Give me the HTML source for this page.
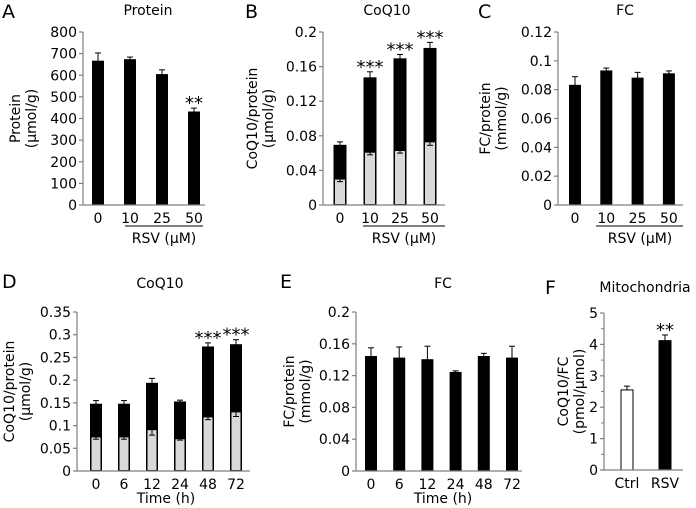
<!DOCTYPE html>
<html><head><meta charset="utf-8"><style>
html,body{margin:0;padding:0;background:#fff;}
svg{display:block;font-family:"DejaVu Sans","Liberation Sans",sans-serif;}
</style></head><body>
<svg id="fig" width="696" height="508" viewBox="0 0 696 508" xmlns="http://www.w3.org/2000/svg"></svg>
<script>
// Panel A
const catsA = ["0","10","25","50"];
const valsA = [665,672,603,430];
const errA = [38,12,22,18];
const starsA = ["","","","**"];
const ticksA = [0,100,200,300,400,500,600,700,800];
// Panel B
const catsB = ["0","10","25","50"];
const totB = [0.069,0.147,0.169,0.181];
const totErrB = [0.004,0.007,0.005,0.007];
const grayB = [0.030,0.061,0.063,0.073];
const grayErrB = [0.003,0.003,0.003,0.004];
const starsB = ["","***","***","***"];
const ticksB = [0,0.04,0.08,0.12,0.16,0.2];
// Panel C
const catsC = ["0","10","25","50"];
const valsC = [0.083,0.093,0.088,0.091];
const errC = [0.006,0.002,0.004,0.002];
const ticksC = [0,0.02,0.04,0.06,0.08,0.1,0.12];
// Panel D
const catsD = ["0","6","12","24","48","72"];
const totD = [0.147,0.147,0.193,0.152,0.273,0.278];
const totErrD = [0.008,0.008,0.011,0.004,0.009,0.011];
const grayD = [0.075,0.075,0.091,0.071,0.119,0.130];
const grayErrD = [0.005,0.005,0.012,0.003,0.006,0.010];
const starsD = ["","","","","***","***"];
const ticksD = [0,0.05,0.1,0.15,0.2,0.25,0.3,0.35];
// Panel E
const catsE = ["0","6","12","24","48","72"];
const valsE = [0.144,0.142,0.140,0.124,0.144,0.142];
const errE = [0.011,0.014,0.017,0.002,0.004,0.015];
const ticksE = [0,0.04,0.08,0.12,0.16,0.2];
// Panel F
const catsF = ["Ctrl","RSV"];
const valsF = [2.55,4.12];
const errF = [0.12,0.18];
const starsF = ["","**"];
const ticksF = [0,1,2,3,4,5];

const NS="http://www.w3.org/2000/svg";
const svg=document.getElementById('fig');
function mk(tag,attrs,parent,text){const e=document.createElementNS(NS,tag);for(const k in attrs)e.setAttribute(k,attrs[k]);if(text!==undefined)e.textContent=text;(parent||svg).appendChild(e);return e;}

function panel(o){
  const g=mk('g',{});
  
  
  const y=v=>o.y0-(v/o.max)*(o.y0-o.y1);
  const x=i=>o.xs0+i*o.step;
  const L=mk('text',{x:o.lx,y:o.ly,'font-size':19,fill:'#000'},g,o.letter);
  
  
  const T=mk('text',{x:o.tx,y:o.ty,'font-size':14,'text-anchor':'middle',fill:'#000'},g,o.title);
  
  
  const yt=mk('text',{transform:`translate(${o.ytx},${(o.y0+o.y1)/2}) rotate(-90)`,'font-size':14,'text-anchor':'middle',fill:'#000'},g);
  
  
  mk('tspan',{x:0,dy:0},yt,o.yl1);
  mk('tspan',{x:0,dy:16},yt,o.yl2);
  o.cats.forEach((c,i)=>{
    const cx=x(i), w=o.bw;
    const tv=o.tot[i];
    const b=mk('rect',{x:cx-w/2,y:y(tv),width:w,height:o.y0-y(tv),fill:o.fills?o.fills[i]:'#000',stroke:'#000','stroke-width':1},g);
    
    
    const ey=y(tv+o.err[i]);
    mk('line',{x1:cx,x2:cx,y1:y(tv),y2:ey,stroke:'#000','stroke-width':1},g);
    mk('line',{x1:cx-3,x2:cx+3,y1:ey,y2:ey,stroke:'#000','stroke-width':1},g);
    if(o.gray){
      const gv=o.gray[i];
      const gb=mk('rect',{x:cx-w/2+0.5,y:y(gv),width:w-1,height:o.y0-y(gv)-0.5,fill:'#d9d9d9',stroke:'#000','stroke-width':1},g);
      
      
      const gy=y(gv-o.gerr[i]);
      mk('line',{x1:cx,x2:cx,y1:y(gv),y2:gy,stroke:'#000','stroke-width':1},g);
      mk('line',{x1:cx-3,x2:cx+3,y1:gy,y2:gy,stroke:'#000','stroke-width':1},g);
    }
    if(o.stars&&o.stars[i]){
      const s=mk('text',{x:cx,y:ey+1,'font-size':18,'text-anchor':'middle',fill:'#000'},g,o.stars[i]);
      
      
    }
    const xl=mk('text',{x:cx,y:o.y0+18,'font-size':14,'text-anchor':'middle',fill:'#000'},g,c);
    
    
  });
  const ax=mk('line',{x1:o.ax,x2:o.ax,y1:o.y1,y2:o.y0,stroke:'#7f7f7f','stroke-width':1.2},g);
  
  
  const bx=mk('line',{x1:o.ax,x2:o.axEnd,y1:o.y0,y2:o.y0,stroke:'#7f7f7f','stroke-width':1.2},g);
  
  
  o.ticks.forEach(t=>{
    mk('line',{x1:o.ax-4,x2:o.ax,y1:y(t),y2:y(t),stroke:'#7f7f7f','stroke-width':1.2},g);
    const tl=mk('text',{x:o.ax-6,y:y(t)+5,'font-size':14,'text-anchor':'end',fill:'#000'},g,String(t));
    
    
  });
  if(o.minor){o.ticks.slice(0,-1).forEach(t=>{mk('line',{x1:o.ax-3,x2:o.ax,y1:y(t+o.minor),y2:y(t+o.minor),stroke:'#7f7f7f','stroke-width':1},g);});}
  if(o.under){
    const u=mk('line',{x1:o.under[0],x2:o.under[1],y1:o.y0+21,y2:o.y0+21,stroke:'#000','stroke-width':1},g);
    
    
  }
  if(o.xt){
    const xt=mk('text',{x:o.xt[0],y:o.xt[1],'font-size':14,'text-anchor':'middle',fill:'#000'},g,o.xtitle);
    
    
  }
}

panel({id:'a',letter:'A',lx:2,ly:18,title:'Protein',tx:148,ty:15,yl1:'Protein',yl2:'(μmol/g)',ytx:20,
  cats:catsA,tot:valsA,err:errA,stars:starsA,ticks:ticksA,max:800,y0:205,y1:32,ax:83,axEnd:205,xs0:98,step:32,bw:11,
  under:[125,203],xt:[164,243],xtitle:'RSV (μM)'});
panel({id:'b',letter:'B',lx:245,ly:18,title:'CoQ10',tx:387,ty:15,yl1:'CoQ10/protein',yl2:'(μmol/g)',ytx:257,
  cats:catsB,tot:totB,err:totErrB,gray:grayB,gerr:grayErrB,stars:starsB,ticks:ticksB,max:0.2,y0:205,y1:32,ax:323,axEnd:445,xs0:340,step:30,bw:12,
  under:[363,445],xt:[404,243],xtitle:'RSV (μM)'});
panel({id:'c',letter:'C',lx:478,ly:18,title:'FC',tx:625,ty:15,yl1:'FC/protein',yl2:'(mmol/g)',ytx:490,
  cats:catsC,tot:valsC,err:errC,ticks:ticksC,max:0.12,y0:205,y1:32,ax:558,axEnd:683,xs0:575,step:31.3,bw:11,
  under:[596,683],xt:[640,243],xtitle:'RSV (μM)'});
panel({id:'d',letter:'D',lx:2,ly:288,title:'CoQ10',tx:160,ty:288,yl1:'CoQ10/protein',yl2:'(μmol/g)',ytx:14,
  cats:catsD,tot:totD,err:totErrD,gray:grayD,gerr:grayErrD,stars:starsD,ticks:ticksD,max:0.35,y0:471,y1:312,ax:77,axEnd:250,xs0:96,step:28,bw:11,
  xt:[166,503],xtitle:'Time (h)'});
panel({id:'e',letter:'E',lx:280,ly:288,title:'FC',tx:443,ty:288,yl1:'FC/protein',yl2:'(mmol/g)',ytx:294,
  cats:catsE,tot:valsE,err:errE,ticks:ticksE,max:0.2,y0:471,y1:312,ax:356,axEnd:522,xs0:371,step:28.2,bw:11,
  xt:[443,503],xtitle:'Time (h)'});
panel({id:'f',letter:'F',lx:545,ly:294,title:'Mitochondria',tx:645,ty:292,yl1:'CoQ10/FC',yl2:'(pmol/μmol)',ytx:568,
  cats:catsF,tot:valsF,err:errF,stars:starsF,ticks:ticksF,max:5,y0:470,y1:313,ax:604,axEnd:683,xs0:627,step:38,bw:12,minor:0.5,
  fills:['#fff','#000']});
</script>
</body></html>
